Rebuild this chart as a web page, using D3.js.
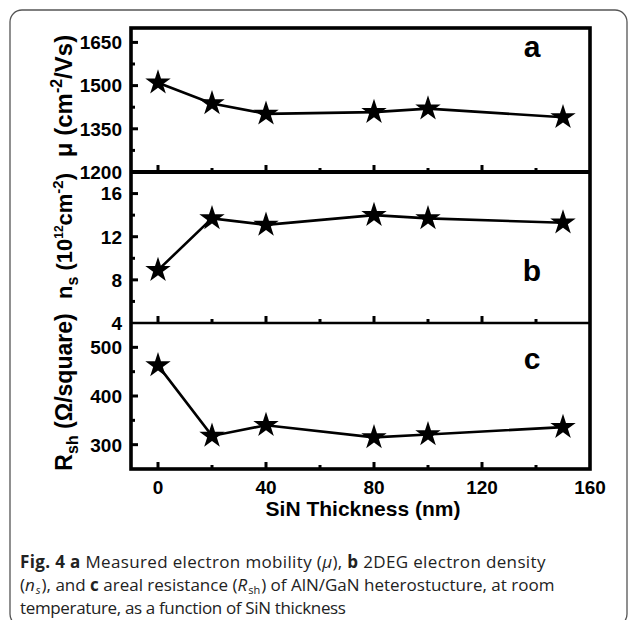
<!DOCTYPE html>
<html>
<head>
<meta charset="utf-8">
<script src="https://cdn.jsdelivr.net/npm/d3@7"></script>
<style>
  body { margin: 0; background: #fff; }
  svg { display: block; }
  .tick-label { font-family: "Liberation Sans", Arial, sans-serif; font-weight: bold; font-size: 19px; }
  .caption { font-family: "Open Sans", "Noto Sans", sans-serif; font-size: 17px; fill: #222; }
</style>
</head>
<body>
<svg id="chart" width="630" height="620"></svg>
<script>
// Data
const thickness = [0, 20, 40, 80, 100, 150]
const mobility = [1510, 1438, 1402, 1408, 1420, 1390]
const density = [8.9, 13.7, 13.1, 14.0, 13.7, 13.3]
const resistance = [463, 318, 340, 315, 321, 336]

const xTicks = [0, 40, 80, 120, 160]
const xMinor = [20, 60, 100, 140]
const mobilityTicks = [1200, 1350, 1500, 1650]
const mobilityMinor = [1275, 1425, 1575]
const densityTicks = [4, 8, 12, 16]
const densityMinor = [6, 10, 14]
const resistanceTicks = [300, 400, 500]
const resistanceMinor = [350, 450]

const svg = d3.select('#chart')

// outer rounded frame of the figure
svg.append('rect')
    .attr('x', 10).attr('y', 10)
    .attr('width', 617).attr('height', 616)
    .attr('rx', 12)
    .attr('fill', 'none')
    .attr('stroke', '#555')
    .attr('stroke-width', 1.3)

const plotLeft = 131, plotRight = 590
const x = d3.scaleLinear().domain([-10, 160]).range([plotLeft, plotRight])

const panels = [
    {key: 'a', values: mobility, top: 28, bottom: 172, domain: [1200, 1700], ticks: mobilityTicks, minor: mobilityMinor, labelY: 49},
    {key: 'b', values: density, top: 172, bottom: 323, domain: [4, 18], ticks: densityTicks, minor: densityMinor, labelY: 273},
    {key: 'c', values: resistance, top: 323, bottom: 469, domain: [250, 550], ticks: resistanceTicks, minor: resistanceMinor, labelY: 361}
]

const star = d3.symbol().type(d3.symbolStar).size(200)

panels.forEach(function(p, pi){
    const y = d3.scaleLinear().domain(p.domain).range([p.bottom, p.top])
    const g = svg.append('g').classed('panel-' + p.key, true)

    // y ticks (inward)
    g.selectAll('line.ymajor')
        .data(p.ticks.filter(t => y(t) > p.top + 2 && y(t) < p.bottom - 2))
        .enter().append('line')
        .attr('x1', plotLeft).attr('x2', plotLeft + 7)
        .attr('y1', d => y(d)).attr('y2', d => y(d))
        .attr('stroke', '#000').attr('stroke-width', 3)

    g.selectAll('line.yminor')
        .data(p.minor)
        .enter().append('line')
        .attr('x1', plotLeft).attr('x2', plotLeft + 4)
        .attr('y1', d => y(d)).attr('y2', d => y(d))
        .attr('stroke', '#000').attr('stroke-width', 3)

    g.selectAll('text.ylab')
        .data(p.ticks)
        .enter().append('text')
        .attr('class', 'tick-label')
        .attr('x', plotLeft - 9)
        .attr('y', d => y(d))
        .attr('dy', '0.36em')
        .attr('text-anchor', 'end')
        .text(d => d)

    // x ticks (inward, bottom of each panel)
    g.selectAll('line.xmajor')
        .data(xTicks.filter(t => x(t) < plotRight - 2))
        .enter().append('line')
        .attr('x1', d => x(d)).attr('x2', d => x(d))
        .attr('y1', p.bottom).attr('y2', p.bottom - 7)
        .attr('stroke', '#000').attr('stroke-width', 3)

    g.selectAll('line.xminor')
        .data(xMinor)
        .enter().append('line')
        .attr('x1', d => x(d)).attr('x2', d => x(d))
        .attr('y1', p.bottom).attr('y2', p.bottom - 4)
        .attr('stroke', '#000').attr('stroke-width', 3)

    // data line + stars
    const line = d3.line()
        .x((d, i) => x(thickness[i]))
        .y(d => y(d))

    g.append('path')
        .datum(p.values)
        .attr('d', line)
        .attr('fill', 'none')
        .attr('stroke', '#000')
        .attr('stroke-width', 2.6)

    g.selectAll('path.star')
        .data(p.values)
        .enter().append('path')
        .attr('d', star)
        .attr('transform', (d, i) => 'translate(' + x(thickness[i]) + ',' + y(d) + ')')
        .attr('fill', '#000')

    // panel letter
    g.append('text')
        .attr('x', 532).attr('y', p.labelY)
        .attr('dy', '0.27em')
        .attr('text-anchor', 'middle')
        .style('font-family', '"Liberation Sans", Arial, sans-serif')
        .style('font-weight', 'bold')
        .style('font-size', '30px')
        .text(p.key)
})

// frames
svg.append('rect')
    .attr('x', plotLeft).attr('y', 28)
    .attr('width', plotRight - plotLeft).attr('height', 469 - 28)
    .attr('fill', 'none').attr('stroke', '#000').attr('stroke-width', 3.6)
svg.append('line')
    .attr('x1', plotLeft).attr('x2', plotRight)
    .attr('y1', 172).attr('y2', 172)
    .attr('stroke', '#000').attr('stroke-width', 4)
svg.append('line')
    .attr('x1', plotLeft).attr('x2', plotRight)
    .attr('y1', 323).attr('y2', 323)
    .attr('stroke', '#000').attr('stroke-width', 2.6)

// x tick labels
svg.selectAll('text.xlab')
    .data(xTicks)
    .enter().append('text')
    .attr('class', 'tick-label')
    .attr('x', d => x(d))
    .attr('y', 494)
    .attr('text-anchor', 'middle')
    .text(d => d)

svg.append('text')
    .attr('x', 363).attr('y', 516)
    .attr('text-anchor', 'middle')
    .style('font-family', '"Liberation Sans", Arial, sans-serif')
    .style('font-weight', 'bold')
    .style('font-size', '21px')
    .text('SiN Thickness (nm)')

// y axis titles
function yTitle(cy, size, build){
    const t = svg.append('text')
        .attr('transform', 'translate(72,' + cy + ') rotate(-90)')
        .attr('text-anchor', 'middle')
        .style('font-family', '"Liberation Sans", Arial, sans-serif')
        .style('font-weight', 'bold')
        .style('font-size', size + 'px')
    build(t)
}

yTitle(96, 24, function(t){
    t.append('tspan').text('\u03bc (cm')
    t.append('tspan').attr('dy', -10).style('font-size', '16px').text('-2')
    t.append('tspan').attr('dy', 10).text('/Vs)')
})
yTitle(236, 22, function(t){
    t.append('tspan').text('n')
    t.append('tspan').attr('dy', 6).style('font-size', '16px').text('s')
    t.append('tspan').attr('dy', -6).text(' (10')
    t.append('tspan').attr('dy', -9).style('font-size', '12px').text('12')
    t.append('tspan').attr('dy', 9).text('cm')
    t.append('tspan').attr('dy', -9).style('font-size', '15px').text('-2')
    t.append('tspan').attr('dy', 9).text(')')
})
yTitle(392, 23, function(t){
    t.append('tspan').text('R')
    t.append('tspan').attr('dy', 6).style('font-size', '16px').text('sh')
    t.append('tspan').attr('dy', -6).text(' (\u03a9/square)')
})

// caption
const cap = svg.append('g')
function capLine(yy, spacing, parts){
    const t = cap.append('text')
        .attr('class', 'caption')
        .attr('x', 20).attr('y', yy)
        .style('letter-spacing', spacing + 'px')
    parts.forEach(function(pt){
        const s = t.append('tspan').text(pt.t)
        if (pt.b) s.style('font-weight', 'bold')
        if (pt.i) s.style('font-style', 'italic')
        if (pt.sub) s.attr('dy', 3).attr('dx', 1).style('font-size', '11px')
        if (pt.up) s.attr('dy', -3).attr('dx', 1)
    })
}
capLine(568, 0.35, [
    {t: 'Fig. 4 ', b: true}, {t: 'a', b: true}, {t: ' Measured electron mobility ('},
    {t: '\u03bc', i: true}, {t: '), '}, {t: 'b', b: true}, {t: ' 2DEG electron density'}
])
capLine(591, 0, [
    {t: '('}, {t: 'n', i: true}, {t: 's', i: true, sub: true}, {t: '), and ', up: true},
    {t: 'c', b: true}, {t: ' areal resistance ('}, {t: 'R', i: true}, {t: 'sh', sub: true},
    {t: ') of AlN/GaN heterostucture, at room', up: true}
])
capLine(614, -0.35, [
    {t: 'temperature, as a function of SiN thickness'}
])
</script>
</body>
</html>
